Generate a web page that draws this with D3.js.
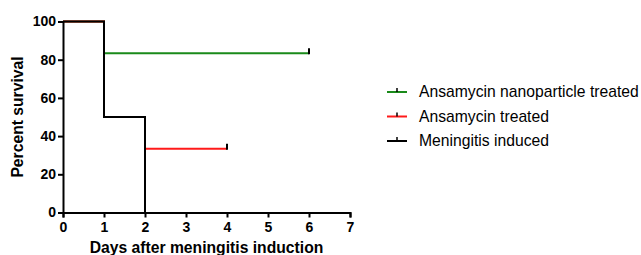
<!DOCTYPE html>
<html>
<head>
<meta charset="utf-8">
<script src="https://cdn.jsdelivr.net/npm/d3@7"></script>
<style>
  body { margin: 0; background: #fff; }
  svg { display: block; font-family: "Liberation Sans", Arial, sans-serif; }
  .axis path, .axis line { stroke: #000; stroke-width: 2px; }
  .axis text { font-size: 14px; font-weight: bold; fill: #000; font-family: "Liberation Sans", Arial, sans-serif; }
</style>
</head>
<body>
<div id="chart"></div>
<script>
// survival curves (days, percent)
var seriesNames = ["Ansamycin nanoparticle treated", "Ansamycin treated", "Meningitis induced"];
var seriesColors = ["#1a8a1a", "#ff1a1a", "#000000"];
var nanoDays = [0, 1, 6];
var nanoSurv = [100, 83.33, 83.33];
var ansaDays = [0, 1, 2, 4];
var ansaSurv = [100, 50, 33.33, 33.33];
var meninDays = [0, 1, 2];
var meninSurv = [100, 50, 0];
var censorDays = [6, 4, null];
var xTicks = [0, 1, 2, 3, 4, 5, 6, 7];
var yTicks = [0, 20, 40, 60, 80, 100];

var width = 641, height = 255;

var svg = d3.select("#chart").append("svg")
    .attr("width", width)
    .attr("height", height);

var xScale = d3.scaleLinear().domain([0, 7]).range([63, 350]);
var yScale = d3.scaleLinear().domain([0, 100]).range([212.5, 21.5]);

var series = [
    {days: nanoDays, surv: nanoSurv},
    {days: ansaDays, surv: ansaSurv},
    {days: meninDays, surv: meninSurv}
];

var line = d3.line()
    .x(function (d) { return xScale(d[0]); })
    .y(function (d) { return yScale(d[1]); })
    .curve(d3.curveStepAfter);

series.forEach(function (s, i) {
    var pts = s.days.map(function (d, j) { return [d, s.surv[j]]; });
    svg.append("path")
        .attr("d", line(pts))
        .attr("fill", "none")
        .attr("stroke", seriesColors[i])
        .attr("stroke-width", 2);

    if (censorDays[i] !== null) {
        var last = s.surv[s.surv.length - 1];
        svg.append("line")
            .attr("x1", xScale(censorDays[i]))
            .attr("x2", xScale(censorDays[i]))
            .attr("y1", yScale(last) + 1)
            .attr("y2", yScale(last) - 5)
            .attr("stroke", "#000")
            .attr("stroke-width", 2);
    }
});

/* axes */
svg.append("g")
    .attr("class", "axis")
    .attr("transform", "translate(0," + yScale(0) + ")")
    .call(d3.axisBottom(xScale).tickValues(xTicks).tickFormat(d3.format("d"))
        .tickSize(5).tickSizeOuter(5).tickPadding(5));

svg.append("g")
    .attr("class", "axis")
    .attr("transform", "translate(" + xScale(0) + ",0)")
    .call(d3.axisLeft(yScale).tickValues(yTicks).tickFormat(d3.format("d"))
        .tickSize(5).tickSizeOuter(0).tickPadding(2));

svg.append("text")
    .attr("x", (xScale(0) + xScale(7)) / 2)
    .attr("y", 253)
    .attr("text-anchor", "middle")
    .style("font-size", "15.7px")
    .style("font-weight", "bold")
    .text("Days after meningitis induction");

svg.append("text")
    .attr("transform", "translate(23," + yScale(50) + ") rotate(-90)")
    .attr("text-anchor", "middle")
    .style("font-size", "15.7px")
    .style("font-weight", "bold")
    .text("Percent survival");

/* legend */
var legend = svg.selectAll(".legend")
    .data(seriesNames)
    .enter()
    .append("g")
    .attr("class", "legend")
    .attr("transform", function (d, i) { return "translate(387," + (92 + i * 24.5) + ")"; });

legend.append("line")
    .attr("x1", 0).attr("x2", 20)
    .attr("stroke", function (d, i) { return seriesColors[i]; })
    .attr("stroke-width", 2);

legend.append("line")
    .attr("x1", 10).attr("x2", 10)
    .attr("y1", 0).attr("y2", -4)
    .attr("stroke", "#000")
    .attr("stroke-width", 1.5);

legend.append("text")
    .attr("x", 32)
    .attr("y", 5)
    .style("font-size", "15.7px")
    .text(function (d) { return d; });
</script>
</body>
</html>
